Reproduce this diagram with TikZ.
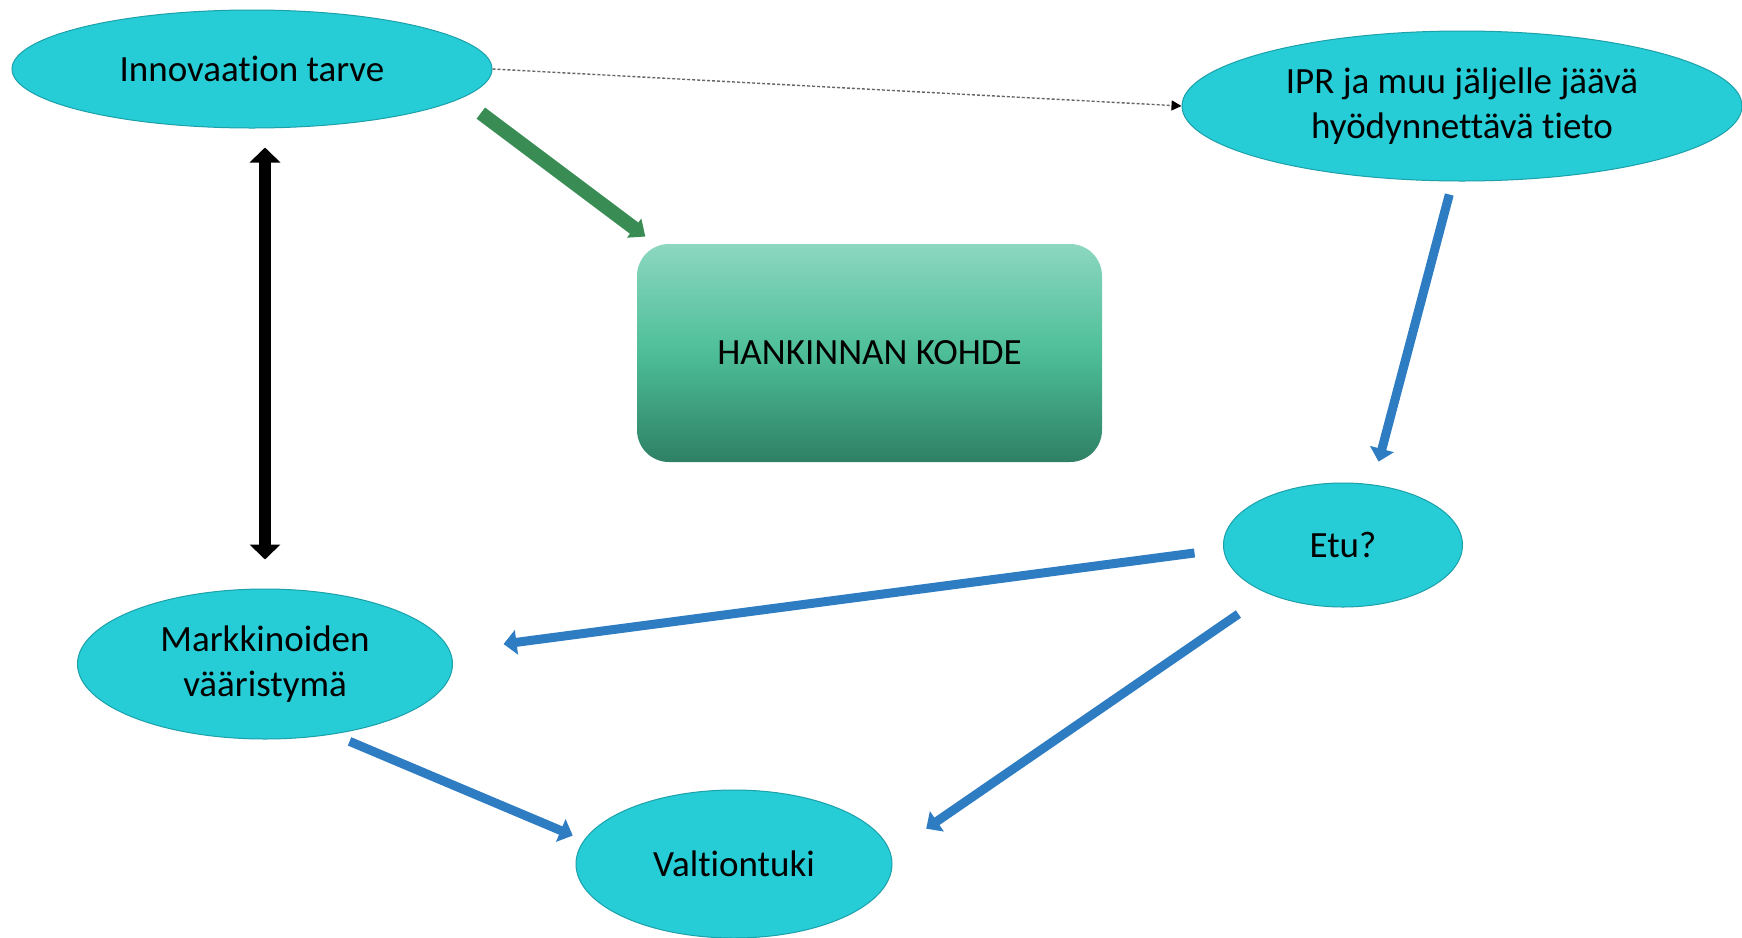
\documentclass[tikz,border=0pt]{standalone}
\usepackage{fontspec}
\setmainfont{Carlito}[Ligatures={NoCommon}]
\usepackage{xcolor}
\usepackage{tikz}
\usetikzlibrary{arrows.meta}
\usetikzlibrary{shapes.geometric}
\definecolor{tealfill}{RGB}{38,205,214}
\definecolor{tealline}{RGB}{28,160,170}
\definecolor{greenarrow}{RGB}{58,140,85}
\definecolor{bluearrow}{RGB}{46,125,195}
\definecolor{boxtop}{RGB}{140,215,192}
\definecolor{boxmid}{RGB}{77,190,152}
\definecolor{boxbot}{RGB}{46,128,101}

\begin{document}
\begin{tikzpicture}[x=0.5pt,y=-0.5pt,
		every node/.style={font=\fontsize{18.5}{22.5}\selectfont,text=black},
		bubble/.style={ellipse,fill=tealfill,draw=tealline,line width=0.5pt,inner sep=0pt,align=center},
		hankbox/.style={rectangle,rounded corners=16pt,top color=boxtop,bottom color=boxbot,middle color=boxmid,minimum width=232.5pt,minimum height=109pt},
		bluelink/.style={-{Triangle[width=12pt,length=6.5pt]},line width=4.5pt,bluearrow},
		greenlink/.style={-{Triangle[width=11.5pt,length=7pt]},line width=7pt,greenarrow},
		bothlink/.style={{Triangle[width=15pt,length=7.5pt]}-{Triangle[width=15pt,length=7.5pt]},line width=6pt,black},
		dotlink/.style={-{Triangle[width=5pt,length=5pt,color=black]},line width=0.7pt,gray!80!black,dash pattern=on 1.5pt off 1pt}]
		\useasboundingbox (0,0) rectangle (1742,938);
		% kuplat
		\node[bubble,minimum width=240pt,minimum height=59pt] (innov) at (252,69) {Innovaation tarve};
		\node[bubble,minimum width=280pt,minimum height=75pt] (ipr) at (1462,106) {IPR ja muu jäljelle jäävä\\hyödynnettävä tieto};
		\node[bubble,minimum width=119.5pt,minimum height=62pt] (etu) at (1343,545) {Etu?};
		\node[bubble,minimum width=187.5pt,minimum height=75pt] (markk) at (265,664) {Markkinoiden\\vääristymä};
		\node[bubble,minimum width=158pt,minimum height=74pt] (valt) at (734,864) {Valtiontuki};
		\node[hankbox] (hank) at (869.5,353) {HANKINNAN KOHDE};
		% nuolet
		\draw[dotlink] (innov.east) -- (ipr.west);
		\draw[greenlink,shorten <=12.3pt,shorten >=5.9pt] (innov.-8.8) -- (hank.153.6);
		\draw[bothlink,shorten <=14.5pt,shorten >=9.5pt] (markk.north) -- (markk.north |- innov.south);
		\draw[bluelink,shorten <=6.75pt,shorten >=11.8pt] (ipr.-97.2) -- (etu.64.3);
		\draw[bluelink,shorten <=14.5pt,shorten >=26.9pt] (etu.182) -- (markk.4);
		\draw[bluelink,shorten <=17.9pt,shorten >=21.5pt] (etu.213.7) -- (valt.4.4);
		\draw[bluelink,shorten <=9pt,shorten >=6pt] (markk.-46.6) -- (valt.171);
\end{tikzpicture}
\end{document}
